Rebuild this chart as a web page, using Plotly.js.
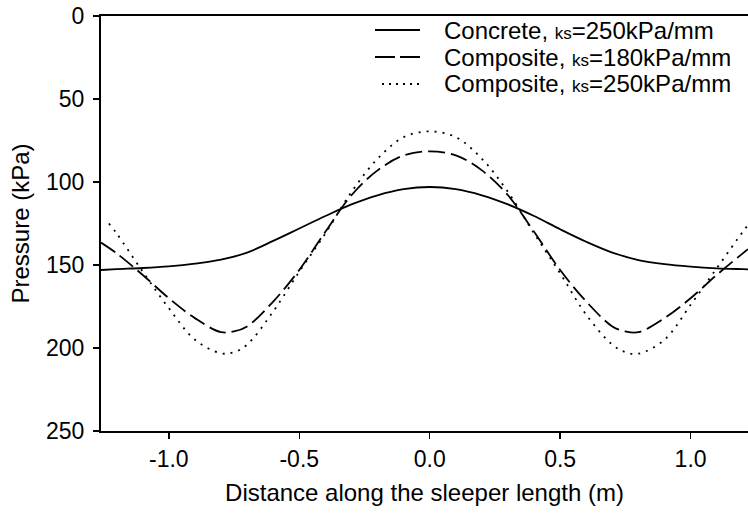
<!DOCTYPE html>
<html>
<head>
<meta charset="utf-8">
<script src="https://cdn.plot.ly/plotly-3.0.1.min.js"></script>
<style>
html, body { margin: 0; padding: 0; background: #fff; }
#chart { width: 748px; height: 516px; }
</style>
</head>
<body>
<div id="chart"></div>
<script>
// Distance along the sleeper length (m)
const xConcrete = [-1.26, -1.2, -1.1, -1.0, -0.9, -0.8, -0.7, -0.6, -0.5, -0.4, -0.3, -0.2, -0.1, 0, 0.1, 0.2, 0.3, 0.4, 0.5, 0.6, 0.7, 0.8, 0.9, 1.0, 1.1, 1.2, 1.22];
const pConcrete250 = [153, 152.5, 151.8, 150.8, 149.2, 146.8, 142.5, 135.5, 128, 120.5, 113.5, 108, 104.3, 103, 104.3, 108, 113.5, 120.5, 128.5, 136, 142.5, 147, 149.5, 151, 152, 152.5, 152.6];

const xComposite180 = [-1.26, -1.2, -1.1, -1.0, -0.9, -0.8, -0.75, -0.7, -0.6, -0.5, -0.4, -0.3, -0.2, -0.1, 0, 0.1, 0.2, 0.3, 0.4, 0.5, 0.6, 0.7, 0.75, 0.8, 0.9, 1.0, 1.1, 1.2, 1.22];
const pComposite180 = [136.5, 143, 156, 170, 182, 190.5, 190, 187, 172, 153, 130, 108, 93, 84, 81.5, 84, 93, 108, 130, 153, 172, 187, 190, 190.5, 182, 170, 156, 143, 140.5];

const xComposite250 = [-1.23, -1.2, -1.1, -1.0, -0.9, -0.8, -0.75, -0.7, -0.6, -0.5, -0.4, -0.3, -0.2, -0.1, 0, 0.1, 0.2, 0.3, 0.4, 0.5, 0.6, 0.7, 0.75, 0.8, 0.9, 1.0, 1.1, 1.2, 1.22];
const pComposite250 = [125, 131, 154, 176, 195, 203.2, 202.5, 198, 178, 154, 131, 106, 86, 73, 69.5, 73, 86, 106, 131, 155, 180, 198, 202.5, 203.4, 195, 174, 152, 130, 126];

const seriesNames = [
  'Concrete, <span style="font-size:17px">ks</span>=250kPa/mm',
  'Composite, <span style="font-size:17px">ks</span>=180kPa/mm',
  'Composite, <span style="font-size:17px">ks</span>=250kPa/mm'
];
const seriesDash = ['solid', '17px,6px', '2px,6px'];
const legendDash = ['solid', '20px,5px', '2px,5px'];

const xTickVals = [-1.0, -0.5, 0.0, 0.5, 1.0];
const xTickText = ['-1.0', '-0.5', '0.0', '0.5', '1.0'];
const yTickVals = [0, 50, 100, 150, 200, 250];

const FONT = '"Liberation Sans", Arial, sans-serif';

// plot-area geometry in pixels (used to place the hand-drawn legend)
const W = 748, H = 516, ML = 101, MR = 0, MT = 16, MB = 85;
const PW = W - ML - MR, PH = H - MT - MB;
const px = v => (v - ML) / PW;
const py = v => (H - MB - v) / PH;

const xData = [xConcrete, xComposite180, xComposite250];
const yData = [pConcrete250, pComposite180, pComposite250];

const traces = xData.map((xs, i) => ({
  x: xs, y: yData[i], name: seriesNames[i], mode: 'lines', showlegend: false,
  line: { color: '#000', width: 1.8, shape: 'spline', dash: seriesDash[i] }
}));

const legendRows = [30, 57, 84];
const legendLineX = [[375, 420], [375, 420], [382, 420]];
const shapes = legendRows.map((ry, i) => ({
  type: 'line', xref: 'paper', yref: 'paper',
  x0: px(legendLineX[i][0]), x1: px(legendLineX[i][1]), y0: py(ry), y1: py(ry),
  line: { color: '#000', width: 1.8, dash: legendDash[i] }
}));
const annotations = legendRows.map((ry, i) => ({
  xref: 'paper', yref: 'paper', x: px(442), y: py(ry),
  xanchor: 'left', yanchor: 'middle', showarrow: false,
  text: seriesNames[i], font: { family: FONT, size: 24, color: '#000' }
}));

const layout = {
  width: W, height: H,
  margin: { l: ML, r: MR, t: MT, b: MB },
  paper_bgcolor: '#fff', plot_bgcolor: '#fff',
  font: { family: FONT, size: 23, color: '#000' },
  showlegend: false,
  shapes: shapes,
  annotations: annotations,
  xaxis: {
    range: [-1.26, 1.22],
    tickvals: xTickVals, ticktext: xTickText,
    ticks: 'outside', ticklen: 6, tickwidth: 1.5, tickcolor: '#000',
    showline: true, linecolor: '#000', linewidth: 2, mirror: true,
    showgrid: false, zeroline: false,
    tickfont: { family: FONT, size: 23, color: '#000' },
    title: { text: 'Distance along the sleeper length (m)', font: { family: FONT, size: 24, color: '#000' }, standoff: 14 }
  },
  yaxis: {
    range: [250, 0],
    tickvals: yTickVals,
    ticks: 'outside', ticklen: 6, tickwidth: 1.5, tickcolor: '#000',
    ticklabelstandoff: 4,
    showline: true, linecolor: '#000', linewidth: 2, mirror: false,
    showgrid: false, zeroline: false,
    tickfont: { family: FONT, size: 23, color: '#000' },
    title: { text: 'Pressure (kPa)', font: { family: FONT, size: 24, color: '#000' }, standoff: 10 }
  }
};

Plotly.newPlot('chart', traces, layout, { staticPlot: true, displayModeBar: false });
</script>
</body>
</html>
